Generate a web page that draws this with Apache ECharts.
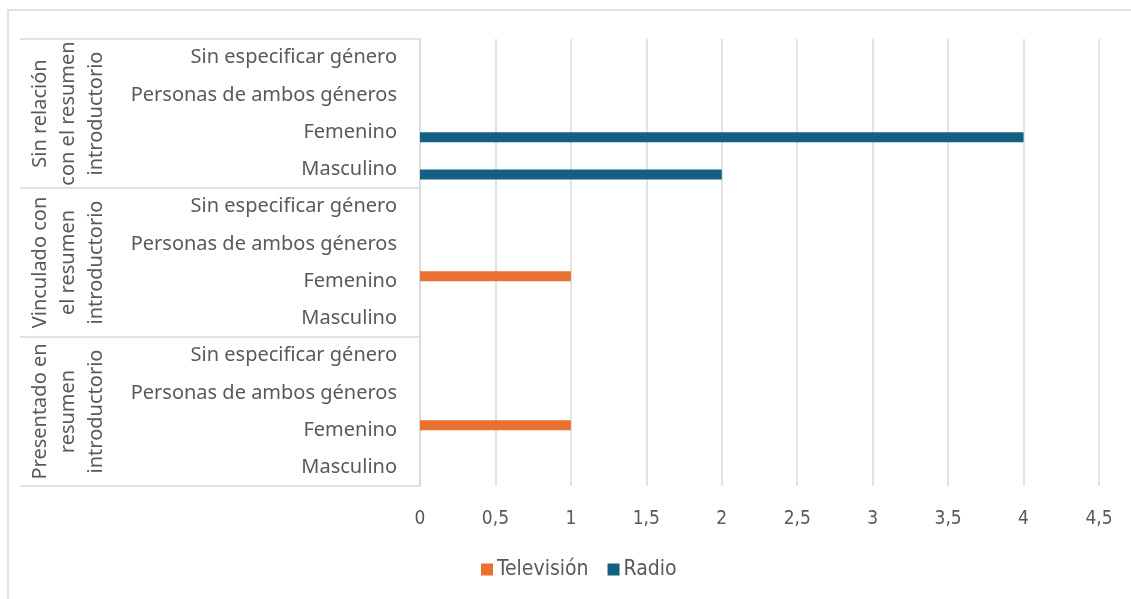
<!DOCTYPE html>
<html><head><meta charset="utf-8">
<script src="https://cdn.jsdelivr.net/npm/echarts@6/dist/echarts.min.js"></script>
<style>html,body{margin:0;padding:0;background:#fff}#c{width:1131px;height:599px}</style>
</head><body><div id="c"></div>
<script>
// categories bottom-to-top
const genders = ['Masculino','Femenino','Personas de ambos géneros','Sin especificar género',
                 'Masculino','Femenino','Personas de ambos géneros','Sin especificar género',
                 'Masculino','Femenino','Personas de ambos géneros','Sin especificar género'];
const groups = ['Presentado en\nresumen\nintroductorio','Vinculado con\nel resumen\nintroductorio','Sin relación\ncon el resumen\nintroductorio'];
const television = [null,1,null,null, null,1,null,null, null,null,null,null];
const radio      = [null,null,null,null, null,null,null,null, 2,4,null,null];
const xTicks = [0,0.5,1,1.5,2,2.5,3,3.5,4,4.5];

const txt = '#595959', grid = '#d9d9d9';
const font = 'Noto Sans';
const narrow = 'DejaVu Sans Condensed';
const chart = echarts.init(document.getElementById('c'));
chart.setOption({
  animation:false,
  graphic:[{type:'rect',shape:{x:8,y:10,width:1140,height:600},style:{fill:'none',stroke:grid,lineWidth:1.5},silent:true}],
  grid:{left:420,right:32,top:39,bottom:113},
  legend:{bottom:14,left:476,itemWidth:12,itemHeight:12,itemGap:19,icon:'rect',
    data:['Televisión','Radio'],textStyle:{color:txt,fontSize:21,fontFamily:narrow,padding:[0,0,0,-1]}},
  xAxis:{type:'value',min:0,max:4.5,interval:0.5,
    axisLine:{show:false},axisTick:{show:false},
    splitLine:{lineStyle:{color:grid,width:1.5}},
    axisLabel:{color:txt,fontSize:19,fontFamily:narrow,margin:24,
      formatter:v=>{const i=xTicks.indexOf(v);return String(i>=0?xTicks[i]:v).replace('.',',');}}},
  yAxis:[
    {type:'category',data:genders,position:'left',
     axisLine:{show:true,lineStyle:{color:grid,width:1.5}},axisTick:{show:false},
     axisLabel:{color:txt,fontSize:20,fontFamily:font,margin:23,interval:0}},
    {type:'category',data:groups,position:'left',offset:0,
     axisLine:{show:false},
     axisTick:{show:true,length:400,lineStyle:{color:grid,width:1.5}},
     axisLabel:{color:txt,fontSize:20,fontFamily:font,rotate:90,margin:310,lineHeight:28,interval:0,hideOverlap:false}}
  ],
  series:[
    {name:'Televisión',type:'bar',data:television,barWidth:10,barGap:'0%',itemStyle:{color:'#E97132'}},
    {name:'Radio',type:'bar',data:radio,barWidth:10,barGap:'0%',itemStyle:{color:'#156082'}}
  ]
});
</script></body></html>
